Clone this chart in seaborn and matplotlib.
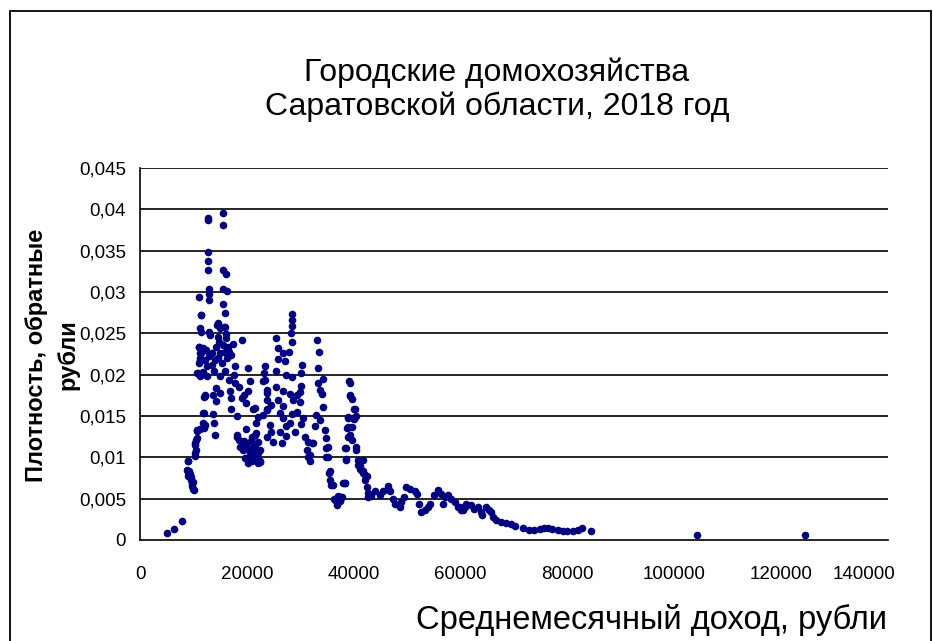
import numpy as np
import pandas as pd
import matplotlib
matplotlib.use('Agg')
import matplotlib.pyplot as plt
import seaborn as sns
from matplotlib.lines import Line2D
from matplotlib.transforms import ScaledTranslation

# первый пик (до ~24 тыс. руб.)
income_low = [5000, 6400, 7900, 8800, 9000, 9300, 8900, 9500, 9600, 9700, 9800, 9900, 10100, 9200, 10000,
              9000, 10300, 10500, 10300, 10600, 10600, 11200, 12100, 12000, 12000, 12100, 11200, 10800, 11800,
              11200, 11500, 11000, 12800, 12800, 15500, 15500, 12800, 12800, 12800, 15500, 16100, 12900, 12900,
              11100, 12900, 15500, 16200, 15500, 15900, 11400, 11200, 11500, 12900, 13100, 14500, 15000, 15900,
              16100, 14600, 16100, 19000, 17400, 11100, 11800, 14200, 15500, 16400, 11300, 13400, 15000, 15900,
              17100, 11200, 12100, 14600, 16300, 11100, 13400, 15300, 17800, 20200, 23400, 10700, 11500, 12500,
              15000, 16700, 17800, 20600, 23400, 14300, 16800, 20200, 12100, 13600, 15000, 17100, 19000, 23700,
              14300, 19900, 21500, 17100, 23700, 11800, 13600, 18100, 22100, 11800, 13800, 19900, 10700, 12000,
              14000, 18100, 20900, 21800, 10500, 18600, 22100, 10300, 18700, 21200, 19300, 10300, 20600, 22100,
              19600, 21200, 22400, 9000, 20000, 20500, 21000, 21500, 20800, 19800, 21800, 22000, 20300, 19400,
              18200, 14600, 15700, 11500, 12300, 13000, 14000, 14800, 16600, 13800, 12600, 16000, 17500, 18500,
              19500]
density_low = [0.0009, 0.0013, 0.0023, 0.0085, 0.0082, 0.0080, 0.0078, 0.0076, 0.0072, 0.0068, 0.0065, 0.0062,
               0.0060, 0.0083, 0.0070, 0.0095, 0.0102, 0.0109, 0.0117, 0.0123, 0.0132, 0.0134, 0.0139, 0.0154,
               0.0173, 0.0175, 0.0198, 0.0202, 0.0203, 0.0218, 0.0226, 0.0233, 0.0390, 0.0387, 0.0395, 0.0381,
               0.0348, 0.0337, 0.0327, 0.0327, 0.0322, 0.0304, 0.0298, 0.0294, 0.0290, 0.0304, 0.0301, 0.0286,
               0.0274, 0.0272, 0.0256, 0.0252, 0.0252, 0.0248, 0.0260, 0.0256, 0.0258, 0.0249, 0.0246, 0.0244,
               0.0242, 0.0237, 0.0234, 0.0232, 0.0234, 0.0236, 0.0234, 0.0226, 0.0226, 0.0226, 0.0228, 0.0224,
               0.0220, 0.0218, 0.0220, 0.0220, 0.0214, 0.0212, 0.0214, 0.0210, 0.0208, 0.0210, 0.0202, 0.0200,
               0.0198, 0.0198, 0.0194, 0.0190, 0.0192, 0.0194, 0.0184, 0.0180, 0.0180, 0.0174, 0.0175, 0.0178,
               0.0172, 0.0172, 0.0178, 0.0168, 0.0166, 0.0160, 0.0159, 0.0158, 0.0154, 0.0152, 0.0150, 0.0149,
               0.0141, 0.0141, 0.0134, 0.0133, 0.0135, 0.0127, 0.0127, 0.0125, 0.0129, 0.0121, 0.0121, 0.0119,
               0.0115, 0.0113, 0.0113, 0.0109, 0.0105, 0.0105, 0.0105, 0.0099, 0.0097, 0.0095, 0.0095, 0.0110,
               0.0100, 0.0095, 0.0100, 0.0120, 0.0115, 0.0110, 0.0093, 0.0093, 0.0120, 0.0125, 0.0262, 0.0258,
               0.0272, 0.0230, 0.0222, 0.0218, 0.0240, 0.0228, 0.0205, 0.0210, 0.0205, 0.0200, 0.0185, 0.0175]

# второй пик (24-42 тыс. руб.)
income_mid = [28400, 28400, 28400, 28200, 25500, 28400, 25900, 27900, 26800, 33200, 33500, 25900, 27100, 30300,
              33300, 25500, 30200, 23200, 27400, 28400, 34300, 23000, 39100, 33300, 25500, 30200, 23700, 33600,
              26800, 28000, 29300, 39300, 29900, 34000, 23700, 25900, 28700, 29900, 24600, 26800, 34300, 40200,
              21200, 23700, 26200, 28400, 29300, 33000, 23000, 38900, 39900, 26800, 30500, 33600, 21800, 24300,
              27400, 28000, 30200, 32700, 38900, 34600, 24600, 26200, 29000, 39300, 21500, 23700, 27400, 30800,
              34900, 24900, 26500, 31500, 32400, 35200, 40500, 38300, 21500, 22400, 31200, 20900, 31500, 34900,
              38600, 40800, 22400, 31800, 41100, 41700, 35400, 42400, 35500, 35800, 38300, 36400, 36900, 37400,
              37900, 37100, 32100, 34900, 31800, 35200, 35500, 36100, 38000, 36700, 41400, 42100]
density_mid = [0.0273, 0.0266, 0.0259, 0.0250, 0.0244, 0.0240, 0.0232, 0.0228, 0.0226, 0.0242, 0.0227, 0.0219,
               0.0217, 0.0212, 0.0208, 0.0205, 0.0202, 0.0202, 0.0200, 0.0197, 0.0195, 0.0192, 0.0192, 0.0190,
               0.0185, 0.0186, 0.0182, 0.0182, 0.0180, 0.0177, 0.0175, 0.0174, 0.0179, 0.0177, 0.0169, 0.0169,
               0.0169, 0.0167, 0.0163, 0.0162, 0.0161, 0.0159, 0.0159, 0.0157, 0.0154, 0.0153, 0.0155, 0.0151,
               0.0151, 0.0149, 0.0147, 0.0147, 0.0147, 0.0145, 0.0141, 0.0139, 0.0138, 0.0141, 0.0140, 0.0138,
               0.0137, 0.0133, 0.0131, 0.0131, 0.0131, 0.0127, 0.0127, 0.0125, 0.0126, 0.0125, 0.0123, 0.0119,
               0.0117, 0.0119, 0.0117, 0.0113, 0.0113, 0.0111, 0.0113, 0.0109, 0.0109, 0.0105, 0.0101, 0.0100,
               0.0098, 0.0097, 0.0094, 0.0095, 0.0089, 0.0083, 0.0081, 0.0077, 0.0073, 0.0067, 0.0069, 0.0049,
               0.0042, 0.0047, 0.0052, 0.0053, 0.0117, 0.0111, 0.0103, 0.0100, 0.0083, 0.0067, 0.0069, 0.0047,
               0.0085, 0.0079]

# третий пик и спад (38-61 тыс. руб.)
income_high = [39300, 39300, 39600, 40000, 38900, 40000, 40500, 38700, 39700, 38900, 39700, 38500, 40400, 38600,
               41700, 40800, 41100, 41700, 42100, 42400, 38300, 37700, 42700, 43300, 42700, 43900, 44900, 45500,
               46400, 46700, 47300, 47800, 48600, 48900, 49500, 49800, 50500, 51400, 51800, 52200, 52600, 53300,
               53900, 54300, 55100, 55800, 56400, 57000, 56700, 57600, 58200, 58900, 59500, 60100, 60900]
density_high = [0.0190, 0.0175, 0.0170, 0.0158, 0.0147, 0.0146, 0.0150, 0.0135, 0.0137, 0.0125, 0.0121, 0.0111,
                0.0109, 0.0097, 0.0097, 0.0091, 0.0086, 0.0081, 0.0073, 0.0064, 0.0069, 0.0052, 0.0057, 0.0053,
                0.0052, 0.0059, 0.0054, 0.0059, 0.0065, 0.0059, 0.0050, 0.0044, 0.0040, 0.0046, 0.0052, 0.0064,
                0.0062, 0.0059, 0.0056, 0.0044, 0.0034, 0.0036, 0.0040, 0.0044, 0.0054, 0.0060, 0.0056, 0.0052,
                0.0044, 0.0054, 0.0049, 0.0046, 0.0040, 0.0036, 0.0040]

# хвост распределения
income_tail = [59800, 60400, 61000, 62000, 62600, 63200, 63800, 64100, 64800, 65300, 65700, 66000, 66600, 67600,
               68500, 69500, 70100, 71600, 72900, 73800, 74800, 75700, 76300, 77200, 78200, 79100, 80000, 81000,
               81900, 82800, 84400, 104300, 124500]
density_tail = [0.0040, 0.0036, 0.0044, 0.0042, 0.0038, 0.0040, 0.0034, 0.0030, 0.0040, 0.0036, 0.0034, 0.0028,
                0.0024, 0.0022, 0.0020, 0.0019, 0.0017, 0.0015, 0.0012, 0.0012, 0.0013, 0.0014, 0.0015, 0.0013,
                0.0012, 0.0011, 0.0011, 0.0011, 0.0012, 0.0014, 0.0011, 0.0006, 0.0006]

x_ticks = [0, 20000, 40000, 60000, 80000, 100000, 120000, 140000]
y_ticks = [0, 0.005, 0.01, 0.015, 0.02, 0.025, 0.03, 0.035, 0.04, 0.045]
y_tick_labels = ['0', '0,005', '0,01', '0,015', '0,02', '0,025', '0,03', '0,035', '0,04', '0,045']

df = pd.DataFrame({
    'income': income_low + income_mid + income_high + income_tail,
    'density': density_low + density_mid + density_high + density_tail,
})

sns.set_style('white')
plt.rcParams['font.family'] = ['Liberation Sans', 'DejaVu Sans']
plt.rcParams['text.color'] = 'black'

fig = plt.figure(figsize=(9.33, 6.41), dpi=100)
ax = fig.add_axes([140 / 933, 101 / 641, 748 / 933, 372 / 641])

ax.set_axisbelow(True)
for v in y_ticks[1:]:
    ax.axhline(v, color='black', lw=1.2, zorder=0)

sns.scatterplot(data=df, x='income', y='density', ax=ax, color='#000080',
                s=30, linewidth=0, zorder=3)

ax.set_xlim(0, 140000)
ax.set_ylim(0, 0.045)
ax.set_xticks(x_ticks)
ax.set_xticklabels([str(v) for v in x_ticks])
ax.set_yticks(y_ticks)
ax.set_yticklabels(y_tick_labels)
ax.tick_params(axis='both', labelsize=13.5, colors='black', direction='out', length=6, width=1.2)
ax.tick_params(axis='x', pad=13)
ax.tick_params(axis='y', pad=4)
ax.set_xlabel('')
ax.set_ylabel('')
for side in ['top', 'right']:
    ax.spines[side].set_visible(False)
for side in ['left', 'bottom']:
    ax.spines[side].set_color('black')
    ax.spines[side].set_linewidth(1.2)

# последняя подпись сдвинута влево, как в Excel
last = ax.get_xticklabels()[-1]
last.set_transform(last.get_transform() + ScaledTranslation(-0.24, 0, fig.dpi_scale_trans))

fig.text(497 / 933, (641 - 90) / 641, 'Городские домохозяйства\nСаратовской области, 2018 год',
         ha='center', va='center', fontsize=23, linespacing=1.15)
fig.text(651 / 933, (641 - 620) / 641, 'Среднемесячный доход, рубли',
         ha='center', va='center', fontsize=23.5)
fig.text(52 / 933, (641 - 355) / 641, 'Плотность, обратные\nрубли', rotation=90,
         ha='center', va='center', fontsize=17, fontweight='bold', linespacing=1.45,
         multialignment='center')

# рамка области диаграммы
fig.add_artist(Line2D([10 / 933, 10 / 933], [0, 1 - 11 / 641], color='black', lw=1.3))
fig.add_artist(Line2D([10 / 933, 931 / 933], [1 - 11 / 641, 1 - 11 / 641], color='black', lw=1.3))
fig.add_artist(Line2D([931 / 933, 931 / 933], [0, 1 - 11 / 641], color='black', lw=1.3))

fig.savefig('out.png', dpi=100)
